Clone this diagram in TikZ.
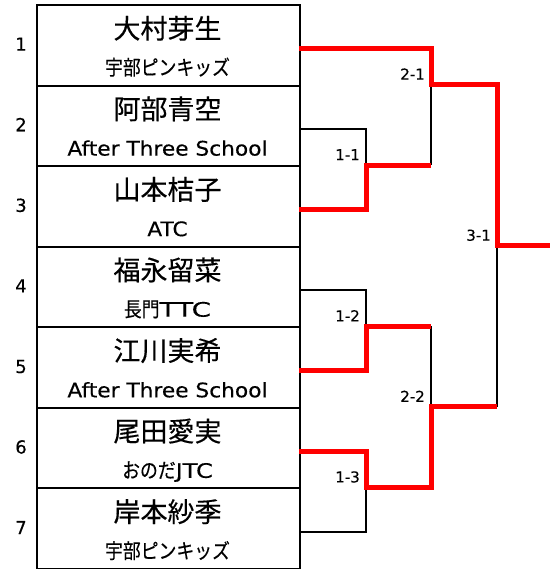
\documentclass[tikz,border=0pt]{standalone}
\usepackage{fontspec}
\usepackage{graphicx}
\setmainfont{DejaVu Sans}[FakeBold=0.3]
\newfontfamily\jpfont{Noto Sans CJK JP}[FakeBold=0.4]
\newcommand\mynamefont{\jpfont\fontsize{27}{27}\selectfont}
\newcommand\myjp[1]{\scalebox{0.87}[1]{\jpfont\fontsize{20.5}{20.5}\selectfont #1}}
\newcommand\mylat[2][1.085]{\scalebox{#1}[1]{\fontsize{20}{20}\selectfont #2}}
\begin{document}
\begin{tikzpicture}[x=1pt,y=-1pt,
  entry/.style={draw=black, line width=2pt, minimum width=263pt, minimum height=80.57pt, inner sep=0pt, anchor=north west},
  pname/.style={anchor=base, inner sep=0pt, font=\mynamefont},
  pclub/.style={anchor=base, inner sep=0pt},
  seed/.style={anchor=base, inner sep=0pt, font=\fontsize{18}{18}\selectfont},
  wire/.style={line width=2.5pt, black},
  win/.style={line width=5pt, red},
  score/.style={anchor=base east, inner sep=0pt, font=\fontsize{15}{15}\selectfont}]
\useasboundingbox (0,0) rectangle (550,569);
% entry boxes
\node[entry] (b1) at (36,4) {};
\node[entry] (b2) at (36,84.57) {};
\node[entry] (b3) at (36,165.14) {};
\node[entry] (b4) at (36,245.71) {};
\node[entry] (b5) at (36,326.28) {};
\node[entry] (b6) at (36,406.85) {};
\node[entry] (b7) at (36,487.42) {};
% seeds
\node[seed] (s1) at (21,50.7) {1};
\node[seed] (s2) at (21,131.27) {2};
\node[seed] (s3) at (21,211.84) {3};
\node[seed] (s4) at (21,292.41) {4};
\node[seed] (s5) at (21,372.98) {5};
\node[seed] (s6) at (21,453.55) {6};
\node[seed] (s7) at (21,534.12) {7};
% names
\node[pname] (n1) at (167.5,38.5) {大村芽生};
\node[pname] (n2) at (167.5,119.07) {阿部青空};
\node[pname] (n3) at (167.5,199.64) {山本桔子};
\node[pname] (n4) at (167.5,280.21) {福永留菜};
\node[pname] (n5) at (167.5,360.78) {江川実希};
\node[pname] (n6) at (167.5,441.35) {尾田愛実};
\node[pname] (n7) at (167.5,521.92) {岸本紗季};
% clubs
\node[pclub] (c1) at (167.5,75) {\myjp{宇部ピンキッズ}};
\node[pclub] (c2) at (167.5,155.57) {\mylat{After Three School}};
\node[pclub] (c3) at (167.5,236.14) {\mylat{ATC}};
\node[pclub] (c4) at (167.5,316.71) {\myjp{長門}\mylat[1.4]{TTC}};
\node[pclub] (c5) at (167.5,397.28) {\mylat{After Three School}};
\node[pclub] (c6) at (167.5,477.85) {\myjp{おのだ}\mylat[1.2]{JTC}};
\node[pclub] (c7) at (167.5,558.42) {\myjp{宇部ピンキッズ}};
% connection points
\coordinate (p1) at (299,48.5);
\coordinate (p2) at (299,129.1);
\coordinate (p3) at (299,209.6);
\coordinate (p4) at (299,290.2);
\coordinate (p5) at (299,370.8);
\coordinate (p6) at (299,451.4);
\coordinate (p7) at (299,531.9);
\coordinate (j11) at (366,165.14);
\coordinate (a11) at (431,165.14);
\coordinate (j12) at (366,326.28);
\coordinate (a12) at (431,326.28);
\coordinate (j13) at (366,487.42);
\coordinate (a13) at (431,487.42);
\coordinate (j21) at (431,84.57);
\coordinate (a21) at (497,84.57);
\coordinate (j22) at (431,406.85);
\coordinate (a22) at (497,406.85);
\coordinate (j31) at (497,245.71);
\coordinate (fin) at (550,245.71);
% losing lines
\draw[wire] (p2) -| (j11);
\draw[wire] (p4) -| (j12);
\draw[wire] (p7) -| (j13);
\draw[wire] (j21) -- (a11);
\draw[wire] (a12) -- (j22);
\draw[wire] (j31) -- (a22);
% winning lines
\draw[win] (p1) -| (j21) -| (j31) -- (fin);
\draw[win] (p3) -| (j11) -- (a11);
\draw[win] (p5) -| (j12) -- (a12);
\draw[win] (p6) -| (j13) -- (a13) -- (j22) -- (a22);
% match labels
\node[score] (m11) at (360,160.14) {1-1};
\node[score] (m12) at (360,321.28) {1-2};
\node[score] (m13) at (360,482.42) {1-3};
\node[score] (m21) at (425,79.57) {2-1};
\node[score] (m22) at (425,401.85) {2-2};
\node[score] (m31) at (491,240.71) {3-1};
\end{tikzpicture}
\end{document}
